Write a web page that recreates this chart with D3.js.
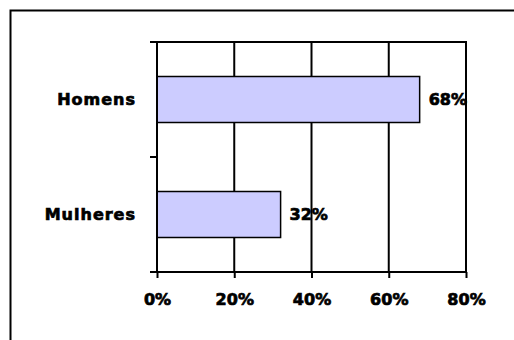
<!DOCTYPE html>
<html><head><meta charset="utf-8">
<script src="https://cdn.jsdelivr.net/npm/d3@7"></script>
<style>body{margin:0;background:#fff}svg{display:block}
text{stroke:#000;stroke-width:0.7px;paint-order:stroke}</style>
</head><body>
<svg id="c" width="514" height="340"></svg>
<script>
const categories = ["Homens", "Mulheres"];
const values = [68, 32];
const tickValues = [0, 20, 40, 60, 80];
const tickLabels = ["0%", "20%", "40%", "60%", "80%"];

const svg = d3.select("#c");
const font = "'DejaVu Sans', Verdana, sans-serif";
const pLeft = 157, pRight = 466, pTop = 42, pBottom = 272;

// outer frame (extends past the window on right/bottom)
svg.append("rect").attr("x", 10.5).attr("y", 10.5).attr("width", 700).attr("height", 500)
  .attr("fill", "none").attr("stroke", "#000").attr("stroke-width", 2);

const x = d3.scaleLinear().domain([0, 80]).range([pLeft, pRight]);
const y = d3.scaleBand().domain(categories).range([pTop, pBottom]).paddingInner(0.6).paddingOuter(0.3);
const yb = d3.scaleBand().domain(categories).range([pTop, pBottom]);

// gridlines
svg.append("g").selectAll("line").data(tickValues.slice(1)).join("line")
  .attr("x1", d => x(d)).attr("x2", d => x(d)).attr("y1", pTop).attr("y2", pBottom)
  .attr("stroke", "#000").attr("stroke-width", 2);
// top line
svg.append("line").attr("x1", pLeft - 7).attr("x2", pRight + 1).attr("y1", pTop).attr("y2", pTop)
  .attr("stroke", "#000").attr("stroke-width", 2);

// bars
svg.append("g").selectAll("rect").data(categories).join("rect")
  .attr("x", x(0)).attr("y", d => y(d))
  .attr("width", (d, i) => x(values[i]) - x(0)).attr("height", y.bandwidth())
  .attr("fill", "#CCCCFF").attr("stroke", "#000").attr("stroke-width", 1.5);

// x axis
const xAxis = svg.append("g").attr("transform", `translate(0,${pBottom})`)
  .call(d3.axisBottom(x).tickValues(tickValues).tickFormat((d, i) => tickLabels[i]).tickSizeOuter(0).tickSize(6).tickPadding(16));
xAxis.select(".domain").attr("stroke-width", 2).attr("d", `M${pLeft - 7},0H${pRight + 1}`);
xAxis.selectAll(".tick line").attr("stroke-width", 2);
xAxis.selectAll("text").attr("font-family", font).attr("font-weight", "bold").attr("font-size", 16).attr("fill", "#000");

// y axis
const yAxis = svg.append("g").attr("transform", `translate(${pLeft},0)`)
  .call(d3.axisLeft(yb).tickSize(0).tickFormat(""));
yAxis.select(".domain").attr("stroke-width", 2).attr("d", `M0,${pTop}V${pBottom}`);
yAxis.selectAll(".tick").remove();
// tick marks between categories
svg.append("g").selectAll("line").data([pTop, pTop + yb.step(), pBottom]).join("line")
  .attr("x1", pLeft - 7).attr("x2", pLeft).attr("y1", d => d).attr("y2", d => d)
  .attr("stroke", "#000").attr("stroke-width", 2);

// category labels
svg.append("g").selectAll("text").data(categories).join("text")
  .attr("x", 136).attr("y", d => y(d) + y.bandwidth() / 2).attr("dy", "0.36em")
  .attr("text-anchor", "end").attr("font-family", font).attr("font-weight", "bold")
  .attr("font-size", 16).attr("letter-spacing", 1).attr("fill", "#000").text(d => d);

// value labels
svg.append("g").selectAll("text").data(categories).join("text")
  .attr("x", (d, i) => x(values[i]) + 9).attr("y", d => y(d) + y.bandwidth() / 2).attr("dy", "0.36em")
  .attr("font-family", font).attr("font-weight", "bold").attr("font-size", 16).attr("fill", "#000")
  .text((d, i) => values[i] + "%");
</script>
</body></html>
